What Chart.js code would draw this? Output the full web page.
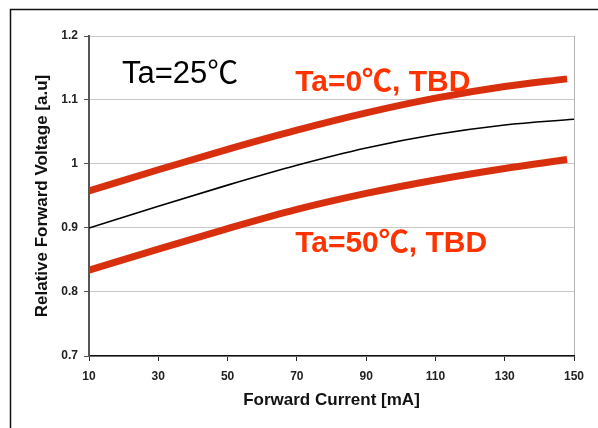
<!DOCTYPE html>
<html>
<head>
<meta charset="utf-8">
<script src="https://cdn.jsdelivr.net/npm/chart.js@4"></script>
<style>
  body { margin: 0; background: #fff; }
</style>
</head>
<body>
<canvas id="vfChart" width="598" height="428"></canvas>
<script>
// forward current [mA] for each curve (the red curves stop just short of 150)
const redCurrents = [10, 30, 50, 70, 90, 110, 130, 148];
const blackCurrents = [10, 30, 50, 70, 90, 110, 130, 150];

// relative forward voltage [a.u]
const ta0Data = [0.958, 0.991, 1.023, 1.053, 1.080, 1.103, 1.121, 1.133];
const ta25Data = [0.900, 0.934, 0.967, 0.998, 1.025, 1.046, 1.061, 1.070];
const ta50Data = [0.834, 0.867, 0.899, 0.929, 0.954, 0.975, 0.993, 1.007];

const voltageTicks = ['0.7', '0.8', '0.9', '1', '1.1', '1.2'];
const currentTicks = ['10', '30', '50', '70', '90', '110', '130', '150'];

const toPoints = (xs, ys) => xs.map((x, i) => ({ x: x, y: ys[i] }));

// text labels placed in data units: [text, current, voltage(baseline), colour, font]
const notes = [
  ['Ta=25\u2103', 19.5, 1.127, '#000', '31px "Liberation Sans", "Noto Sans CJK JP"'],
  ['Ta=0\u2103, TBD', 69.5, 1.114, '#ff3300', 'bold 30px "Liberation Sans", "Noto Sans CJK JP"'],
  ['Ta=50\u2103, TBD', 69.5, 0.8625, '#ff3300', 'bold 30px "Liberation Sans", "Noto Sans CJK JP"']
];

const notesPlugin = {
  id: 'notes',
  afterDatasetsDraw(chart) {
    const ctx = chart.ctx;
    const xs = chart.scales.x, ys = chart.scales.y;
    ctx.save();
    ctx.textAlign = 'left';
    ctx.textBaseline = 'alphabetic';
    notes.forEach(n => {
      ctx.font = n[4];
      ctx.fillStyle = n[3];
      ctx.fillText(n[0], xs.getPixelForValue(n[1]), ys.getPixelForValue(n[2]));
    });
    ctx.restore();
  },
  afterDraw(chart) {
    // frame around the figure (top and left edges only are visible)
    const ctx = chart.ctx;
    ctx.save();
    ctx.strokeStyle = '#111';
    ctx.lineWidth = 1.5;
    ctx.beginPath();
    ctx.moveTo(10.5, 428);
    ctx.lineTo(10.5, 9.5);
    ctx.lineTo(598, 9.5);
    ctx.stroke();
    ctx.restore();
  }
};

const redLine = '#d8300f';

new Chart(document.getElementById('vfChart'), {
  type: 'line',
  data: {
    datasets: [
      {
        label: 'Ta=0',
        data: toPoints(redCurrents, ta0Data),
        borderColor: redLine,
        borderWidth: 7,
        pointRadius: 0,
        cubicInterpolationMode: 'monotone',
        fill: false
      },
      {
        label: 'Ta=25',
        data: toPoints(blackCurrents, ta25Data),
        borderColor: '#000',
        borderWidth: 1.6,
        pointRadius: 0,
        cubicInterpolationMode: 'monotone',
        fill: false
      },
      {
        label: 'Ta=50',
        data: toPoints(redCurrents, ta50Data),
        borderColor: redLine,
        borderWidth: 7,
        pointRadius: 0,
        cubicInterpolationMode: 'monotone',
        fill: false
      }
    ]
  },
  options: {
    responsive: false,
    animation: false,
    layout: { padding: { left: 28, top: 36, right: 24, bottom: 12 } },
    plugins: {
      legend: { display: false },
      title: { display: false },
      tooltip: { enabled: false }
    },
    scales: {
      x: {
        type: 'linear',
        min: 10,
        max: 150,
        afterFit: (scale) => { scale.height = 60; },
        ticks: {
          stepSize: 20,
          padding: 8,
          color: '#222',
          font: { family: '"Liberation Sans", Arial', size: 12, weight: 'bold' },
          callback: (v, i) => currentTicks[i]
        },
        grid: {
          color: (c) => (c.tick && c.tick.value === 150 ? '#b4b4b4' : 'rgba(0,0,0,0)'),
          tickColor: '#222',
          tickLength: 5
        },
        border: { color: '#111', width: 1.5 },
        title: {
          display: true,
          text: 'Forward Current [mA]',
          color: '#111',
          font: { family: '"Liberation Sans", Arial', size: 17, weight: 'bold' },
          padding: { top: 0, bottom: 5 }
        }
      },
      y: {
        min: 0.7,
        max: 1.2,
        afterFit: (scale) => { scale.width = 61; },
        ticks: {
          stepSize: 0.1,
          padding: 6,
          color: '#222',
          font: { family: '"Liberation Sans", Arial', size: 12, weight: 'bold' },
          callback: (v, i) => voltageTicks[i]
        },
        grid: {
          color: '#c8c8c8',
          tickColor: '#555',
          tickLength: 5
        },
        border: { color: '#555', width: 2 },
        title: {
          display: true,
          text: 'Relative Forward Voltage [a.u]',
          color: '#111',
          font: { family: '"Liberation Sans", Arial', size: 17, weight: 'bold' },
          padding: { top: 4, bottom: 0 }
        }
      }
    }
  },
  plugins: [notesPlugin]
});
</script>
</body>
</html>
